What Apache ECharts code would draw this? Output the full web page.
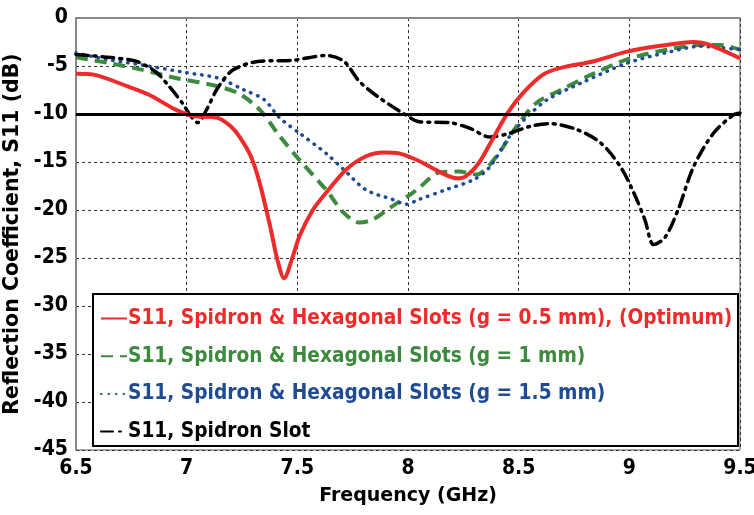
<!DOCTYPE html>
<html><head><meta charset="utf-8">
<script src="https://cdn.jsdelivr.net/npm/echarts@6/dist/echarts.min.js"></script>
<style>html,body{margin:0;padding:0;background:#fff}#c{width:754px;height:515px}</style>
</head><body><div id="c"></div>
<script>
const xTicks = [6.5, 7, 7.5, 8, 8.5, 9, 9.5];
const yTicks = [0, -5, -10, -15, -20, -25, -30, -35, -40, -45];
const seriesNames = [
  'S11, Spidron & Hexagonal Slots (g = 0.5 mm), (Optimum)',
  'S11, Spidron & Hexagonal Slots (g = 1 mm)',
  'S11, Spidron & Hexagonal Slots (g = 1.5 mm)',
  'S11, Spidron Slot'
];
const redFreq = [6.5,6.58,6.73,6.83,6.95,7.03,7.14,7.2,7.24,7.29,7.33,7.38,7.41,7.44,7.48,7.51,7.57,7.63,7.72,7.81,7.89,7.96,8.05,8.14,8.22,8.26,8.32,8.38,8.45,8.52,8.61,8.69,8.84,8.99,9.14,9.29,9.35,9.5];
const redS11 = [-5.8,-5.9,-7.1,-8.0,-9.55,-10.2,-10.4,-11.3,-12.4,-14.4,-17.2,-22.0,-25.2,-27.1,-24.8,-22.7,-20.0,-18.2,-15.8,-14.4,-14.0,-14.1,-14.9,-16.0,-16.7,-16.5,-15.1,-12.7,-9.9,-7.8,-5.9,-5.2,-4.5,-3.5,-2.9,-2.5,-2.7,-4.2];
const greenFreq = [6.5,6.65,6.8,6.95,7.1,7.23,7.33,7.42,7.51,7.63,7.71,7.78,7.84,7.93,8.01,8.05,8.14,8.23,8.31,8.4,8.49,8.58,8.69,8.81,8.99,9.17,9.32,9.41,9.5];
const greenS11 = [-4.1,-4.7,-5.4,-6.25,-6.9,-7.8,-9.55,-12.3,-14.8,-17.9,-20.3,-21.3,-21.0,-19.6,-18.4,-17.7,-16.1,-16.0,-16.3,-14.4,-11.3,-8.85,-7.5,-6.1,-4.3,-3.3,-2.8,-2.8,-3.3];
const blueFreq = [6.5,6.65,6.8,7.0,7.14,7.26,7.35,7.42,7.51,7.63,7.71,7.81,7.93,7.99,8.05,8.17,8.3,8.37,8.46,8.54,8.63,8.78,8.99,9.17,9.32,9.5];
const blueS11 = [-3.65,-4.35,-4.9,-5.7,-6.25,-7.5,-8.5,-10.4,-12.0,-14.1,-15.8,-17.9,-18.9,-19.4,-18.9,-17.9,-16.8,-15.5,-12.3,-10.25,-8.5,-6.8,-4.7,-3.6,-2.95,-3.3];
const blackFreq = [6.5,6.65,6.77,6.86,6.92,6.98,7.02,7.05,7.09,7.14,7.21,7.33,7.48,7.63,7.71,7.78,7.87,7.99,8.05,8.19,8.28,8.37,8.46,8.55,8.64,8.76,8.87,8.96,9.02,9.07,9.11,9.16,9.22,9.29,9.38,9.47,9.5];
const blackS11 = [-3.8,-4.1,-4.5,-5.6,-7.1,-8.85,-10.25,-10.9,-9.55,-7.3,-5.4,-4.5,-4.4,-3.9,-4.5,-6.6,-8.3,-10.1,-10.8,-10.9,-11.5,-12.4,-12.0,-11.3,-11.0,-11.6,-13.0,-15.5,-18.2,-21.0,-23.6,-22.9,-20.0,-15.5,-12.0,-10.1,-9.9];
const threshold = -10;

const colors = ['#ee2b2b', '#3b8a3e', '#1f4b93', '#000000'];
const zip = (a, b) => a.map((v, i) => [v, b[i]]);
const font = 'DejaVu Sans Condensed';

const chart = echarts.init(document.getElementById('c'), null, {renderer: 'canvas'});
chart.setOption({
  animation: false,
  backgroundColor: '#fff',
  grid: {left: 76, right: 14, top: 18, bottom: 65, show: true, borderColor: '#555', borderWidth: 1,
    containLabel: false, outerBoundsMode: 'none'},
  xAxis: {
    type: 'value', min: 6.5, max: 9.5, interval: 0.5,
    name: 'Frequency (GHz)', nameLocation: 'middle', nameGap: 37,
    nameTextStyle: {fontFamily: 'DejaVu Sans', fontWeight: 'bold', fontSize: 19, color: '#000'},
    axisLine: {lineStyle: {color: '#888', width: 2}},
    axisTick: {show: false},
    axisLabel: {fontFamily: font, fontWeight: 'bold', fontSize: 21, color: '#000', margin: 8,
      formatter: v => xTicks.includes(v) ? String(v) : ''},
    splitLine: {show: true, lineStyle: {color: '#333', type: [3, 3], width: 1}}
  },
  yAxis: {
    type: 'value', min: -45, max: 0, interval: 5,
    name: 'Reflection Coefficient, S11 (dB)', nameLocation: 'middle', nameGap: 52, nameRotate: 90,
    nameTextStyle: {fontFamily: 'DejaVu Sans', fontWeight: 'bold', fontSize: 20.5, color: '#000', padding: [0, 0, 0, 0]},
    axisLine: {show: true, lineStyle: {color: '#888', width: 2}},
    axisTick: {show: false},
    axisLabel: {fontFamily: font, fontWeight: 'bold', fontSize: 21, color: '#000', margin: 8,
      formatter: v => yTicks.includes(v) ? String(v) : ''},
    splitLine: {show: true, lineStyle: {color: '#333', type: [3, 3], width: 1}}
  },
  legend: {
    z: 10,
    orient: 'vertical', left: 95, top: 303, itemGap: 16.7, itemWidth: 26, itemHeight: 22,
    itemStyle: {opacity: 0},
    data: seriesNames.map((n, i) => ({name: n, textStyle: {color: colors[i]}})),
    textStyle: {fontFamily: font, fontWeight: 'bold', fontSize: 20.7, padding: [0, 0, 0, -4]},
    backgroundColor: 'transparent', borderWidth: 0
  },
  graphic: [{type: 'rect', left: 92, top: 293, shape: {width: 645, height: 152},
    style: {fill: '#fff', stroke: '#000', lineWidth: 2}, z: 5}],
  series: [
    {name: seriesNames[0], type: 'line', data: zip(redFreq, redS11), smooth: 0.3, symbol: 'none',
      lineStyle: {color: colors[0], width: 4}, itemStyle: {color: colors[0]}, z: 4,
      markLine: {silent: true, symbol: 'none', label: {show: false},
        lineStyle: {color: '#000', width: 3, type: 'solid'}, data: [{yAxis: threshold}]}},
    {name: seriesNames[1], type: 'line', data: zip(greenFreq, greenS11), smooth: 0.3, symbol: 'none',
      lineStyle: {color: colors[1], width: 4, type: [12, 7]}, itemStyle: {color: colors[1]}, z: 3},
    {name: seriesNames[2], type: 'line', data: zip(blueFreq, blueS11), smooth: 0.3, symbol: 'none',
      lineStyle: {color: colors[2], width: 3.5, type: [0.5, 7], cap: 'round'}, itemStyle: {color: colors[2]}, z: 3},
    {name: seriesNames[3], type: 'line', data: zip(blackFreq, blackS11), smooth: 0.3, symbol: 'none',
      lineStyle: {color: colors[3], width: 3.5, type: [12, 6, 2, 6], cap: 'round'}, itemStyle: {color: colors[3]}, z: 3}
  ]
});
</script></body></html>
